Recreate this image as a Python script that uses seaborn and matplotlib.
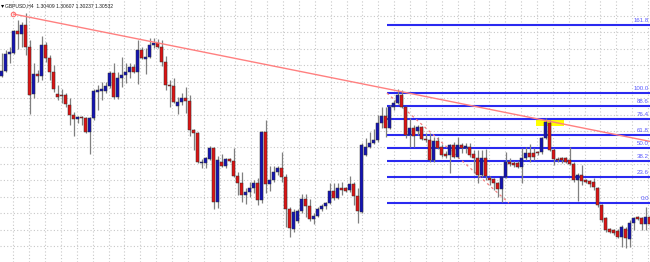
import numpy as np
import matplotlib
matplotlib.use("Agg")
import matplotlib.pyplot as plt
import seaborn as sns

# ---- candle data (GBPUSD H4) ----
opens = [1.3204, 1.3209, 1.3226, 1.3227, 1.3249, 1.3246, 1.3255, 1.3233, 1.3186, 1.3206,
         1.3204, 1.3235, 1.3222, 1.3208, 1.3186, 1.3185, 1.3185, 1.3175, 1.3165, 1.3161,
         1.3163, 1.3162, 1.3148, 1.3162, 1.3188, 1.3189, 1.3189, 1.3194, 1.3207, 1.3183,
         1.3202, 1.3205, 1.3208, 1.3213, 1.3208, 1.3230, 1.3221, 1.3223, 1.3235, 1.3237,
         1.3233, 1.3218, 1.3195, 1.3194, 1.3174, 1.3178, 1.3182, 1.3179, 1.3150, 1.3147,
         1.3117, 1.3117, 1.3121, 1.3132, 1.3078, 1.3118, 1.3114, 1.3121, 1.3119, 1.3104,
         1.3097, 1.3085, 1.3088, 1.3092, 1.3097, 1.3080, 1.3148, 1.3096, 1.3100, 1.3108,
         1.3112, 1.3103, 1.3071, 1.3051, 1.3059, 1.3069, 1.3081, 1.3074, 1.3061, 1.3064,
         1.3071, 1.3074, 1.3077, 1.3089, 1.3082, 1.3092, 1.3092, 1.3090, 1.3096, 1.3084,
         1.3068, 1.3125, 1.3133, 1.3137, 1.3140, 1.3157, 1.3164, 1.3152, 1.3173, 1.3177,
         1.3185, 1.3173, 1.3145, 1.3152, 1.3149, 1.3153, 1.3141, 1.3140, 1.3120, 1.3139,
         1.3133, 1.3126, 1.3125, 1.3135, 1.3123, 1.3135, 1.3132, 1.3133, 1.3126, 1.3122,
         1.3105, 1.3122, 1.3102, 1.3101, 1.3097, 1.3091, 1.3103, 1.3118, 1.3117, 1.3117,
         1.3113, 1.3122, 1.3127, 1.3127, 1.3128, 1.3128, 1.3142, 1.3157, 1.3130, 1.3121,
         1.3122, 1.3122, 1.3120, 1.3116, 1.3100, 1.3105, 1.3100, 1.3099, 1.3098, 1.3092,
         1.3075, 1.3062, 1.3051, 1.3050, 1.3049, 1.3043, 1.3051, 1.3041, 1.3057, 1.3063,
         1.3062, 1.3056, 1.3063]
highs = [1.3227, 1.3230, 1.3233, 1.3250, 1.3260, 1.3258, 1.3267, 1.3240, 1.3217, 1.3210,
         1.3244, 1.3238, 1.3225, 1.3215, 1.3195, 1.3191, 1.3187, 1.3182, 1.3168, 1.3164,
         1.3164, 1.3163, 1.3163, 1.3191, 1.3195, 1.3198, 1.3198, 1.3209, 1.3217, 1.3208,
         1.3223, 1.3217, 1.3217, 1.3216, 1.3240, 1.3233, 1.3232, 1.3242, 1.3242, 1.3241,
         1.3240, 1.3224, 1.3200, 1.3202, 1.3183, 1.3187, 1.3193, 1.3185, 1.3151, 1.3148,
         1.3121, 1.3123, 1.3134, 1.3133, 1.3124, 1.3126, 1.3122, 1.3122, 1.3132, 1.3108,
         1.3108, 1.3092, 1.3098, 1.3100, 1.3102, 1.3149, 1.3160, 1.3114, 1.3114, 1.3114,
         1.3128, 1.3106, 1.3073, 1.3071, 1.3071, 1.3086, 1.3086, 1.3081, 1.3067, 1.3073,
         1.3076, 1.3078, 1.3097, 1.3097, 1.3097, 1.3098, 1.3093, 1.3104, 1.3098, 1.3092,
         1.3137, 1.3142, 1.3148, 1.3151, 1.3165, 1.3173, 1.3173, 1.3175, 1.3180, 1.3191,
         1.3190, 1.3174, 1.3162, 1.3155, 1.3155, 1.3154, 1.3147, 1.3147, 1.3143, 1.3143,
         1.3136, 1.3129, 1.3136, 1.3138, 1.3143, 1.3137, 1.3137, 1.3137, 1.3130, 1.3130,
         1.3130, 1.3131, 1.3104, 1.3102, 1.3098, 1.3104, 1.3128, 1.3122, 1.3119, 1.3119,
         1.3132, 1.3133, 1.3136, 1.3132, 1.3129, 1.3143, 1.3162, 1.3160, 1.3132, 1.3123,
         1.3123, 1.3123, 1.3133, 1.3118, 1.3107, 1.3115, 1.3101, 1.3100, 1.3102, 1.3093,
         1.3076, 1.3063, 1.3052, 1.3051, 1.3051, 1.3055, 1.3053, 1.3060, 1.3063, 1.3064,
         1.3063, 1.3073, 1.3065]
lows = [1.3203, 1.3208, 1.3217, 1.3226, 1.3231, 1.3233, 1.3225, 1.3166, 1.3182, 1.3198,
        1.3200, 1.3218, 1.3200, 1.3188, 1.3180, 1.3177, 1.3173, 1.3155, 1.3144, 1.3157,
        1.3155, 1.3147, 1.3126, 1.3160, 1.3170, 1.3180, 1.3187, 1.3192, 1.3181, 1.3181,
        1.3193, 1.3197, 1.3202, 1.3207, 1.3196, 1.3221, 1.3206, 1.3222, 1.3232, 1.3232,
        1.3214, 1.3190, 1.3173, 1.3177, 1.3166, 1.3175, 1.3167, 1.3144, 1.3130, 1.3117,
        1.3112, 1.3112, 1.3120, 1.3071, 1.3072, 1.3113, 1.3112, 1.3118, 1.3103, 1.3085,
        1.3078, 1.3076, 1.3083, 1.3087, 1.3075, 1.3077, 1.3087, 1.3089, 1.3098, 1.3105,
        1.3098, 1.3053, 1.3043, 1.3048, 1.3057, 1.3067, 1.3063, 1.3059, 1.3056, 1.3063,
        1.3069, 1.3071, 1.3076, 1.3080, 1.3081, 1.3085, 1.3088, 1.3088, 1.3075, 1.3057,
        1.3067, 1.3124, 1.3132, 1.3136, 1.3138, 1.3152, 1.3143, 1.3151, 1.3170, 1.3176,
        1.3172, 1.3142, 1.3133, 1.3133, 1.3145, 1.3140, 1.3138, 1.3118, 1.3118, 1.3131,
        1.3123, 1.3122, 1.3107, 1.3122, 1.3122, 1.3127, 1.3127, 1.3123, 1.3107, 1.3097,
        1.3103, 1.3100, 1.3095, 1.3090, 1.3083, 1.3078, 1.3102, 1.3114, 1.3113, 1.3112,
        1.3097, 1.3120, 1.3118, 1.3120, 1.3125, 1.3126, 1.3141, 1.3129, 1.3115, 1.3118,
        1.3117, 1.3117, 1.3115, 1.3098, 1.3079, 1.3095, 1.3097, 1.3093, 1.3090, 1.3073,
        1.3058, 1.3048, 1.3047, 1.3045, 1.3042, 1.3033, 1.3032, 1.3033, 1.3050, 1.3060,
        1.3050, 1.3050, 1.3050]
closes = [1.3209, 1.3226, 1.3228, 1.3249, 1.3246, 1.3255, 1.3233, 1.3185, 1.3206, 1.3204,
          1.3235, 1.3222, 1.3208, 1.3191, 1.3183, 1.3184, 1.3176, 1.3165, 1.3161, 1.3163,
          1.3162, 1.3148, 1.3162, 1.3189, 1.3190, 1.3191, 1.3194, 1.3207, 1.3183, 1.3202,
          1.3205, 1.3208, 1.3213, 1.3208, 1.3230, 1.3222, 1.3223, 1.3235, 1.3237, 1.3233,
          1.3218, 1.3195, 1.3194, 1.3178, 1.3178, 1.3182, 1.3179, 1.3150, 1.3147, 1.3118,
          1.3118, 1.3122, 1.3132, 1.3078, 1.3120, 1.3114, 1.3121, 1.3119, 1.3104, 1.3097,
          1.3085, 1.3088, 1.3092, 1.3097, 1.3080, 1.3148, 1.3096, 1.3100, 1.3108, 1.3112,
          1.3103, 1.3071, 1.3052, 1.3068, 1.3069, 1.3081, 1.3074, 1.3061, 1.3064, 1.3071,
          1.3074, 1.3077, 1.3089, 1.3082, 1.3092, 1.3090, 1.3089, 1.3096, 1.3084, 1.3069,
          1.3135, 1.3133, 1.3137, 1.3140, 1.3157, 1.3164, 1.3152, 1.3173, 1.3177, 1.3185,
          1.3173, 1.3145, 1.3152, 1.3144, 1.3153, 1.3141, 1.3140, 1.3120, 1.3139, 1.3132,
          1.3125, 1.3124, 1.3135, 1.3123, 1.3135, 1.3132, 1.3134, 1.3125, 1.3122, 1.3105,
          1.3122, 1.3104, 1.3100, 1.3097, 1.3091, 1.3103, 1.3118, 1.3116, 1.3115, 1.3113,
          1.3122, 1.3127, 1.3123, 1.3123, 1.3127, 1.3142, 1.3158, 1.3130, 1.3121, 1.3120,
          1.3120, 1.3118, 1.3116, 1.3100, 1.3105, 1.3099, 1.3098, 1.3096, 1.3093, 1.3075,
          1.3060, 1.3050, 1.3048, 1.3047, 1.3043, 1.3053, 1.3042, 1.3057, 1.3062, 1.3061,
          1.3056, 1.3063, 1.3056]

# ---- drawing objects ----
fib_levels = [0.0, 23.6, 38.2, 50.0, 61.8, 76.4, 88.6, 100.0, 161.8]
fib_labels = ["0.0", "23.6", "38.2", "50.0", "61.8", "76.4", "88.6", "100.0", "161.8"]
fib_low = 1.3077
fib_high = 1.3187
fib_anchor_bars = [96.3, 126.8]
trend_bars = [2.9, 96.6]
trend_prices = [1.3266, 1.3191]
zone_bars = [133.6, 140.6]
zone_prices = [1.3154, 1.3162]
header = "GBPUSD,H4  1.30409 1.30607 1.30237 1.30532"

sns.set_style("white")
plt.rcParams["font.family"] = ["Liberation Sans", "DejaVu Sans"]

fig = plt.figure(figsize=(6.5, 2.62), dpi=100)
ax = fig.add_axes([0, 0, 1, 1])
xmin, xmax = -0.425, 162.075
ymin, ymax = 1.3018, 1.3280
ax.set_xlim(xmin, xmax)
ax.set_ylim(ymin, ymax)

# grid
for gy in np.arange(1.3264, ymin, -0.001643):
    ax.axhline(gy, color="#c8c8c8", lw=0.8, ls=(0, (1, 2)), zorder=0)
for gx in np.arange(2.9, xmax, 3.9675):
    ax.axvline(gx, color="#c8c8c8", lw=0.8, ls=(0, (1, 2)), zorder=0)

o = np.array(opens); h = np.array(highs); l = np.array(lows); c = np.array(closes)
x = np.arange(len(o))
up = c >= o

# yellow zone
ax.fill_between(zone_bars, zone_prices[0], zone_prices[1], color="#ffff00", lw=0, zorder=1)

# fibonacci
rng = fib_high - fib_low
for lev, lab in zip(fib_levels, fib_labels):
    yv = fib_low + rng * lev / 100.0
    ax.plot([fib_anchor_bars[0] + 0.1, xmax], [yv, yv], color="#2a2af0", lw=1.5,
            solid_capstyle="butt", zorder=2)
    ax.text(xmax - 0.25, yv + 0.00016, lab, color="#5a5aff", fontsize=4.4, ha="right",
            va="bottom", zorder=6)
ax.plot(fib_anchor_bars, [fib_high, fib_low], color="#f08080", lw=0.9,
        ls=(0, (2, 2.5)), zorder=2)

# candles
ax.vlines(x, l, h, color="#808080", lw=0.9, zorder=3)
bw = 0.65
body_lo = np.minimum(o, c)
body_h = np.maximum(np.abs(c - o), 0.00008)
ax.bar(x[up], body_h[up], bottom=body_lo[up], width=bw, color="#1414b4",
       edgecolor="#303030", lw=0.35, zorder=4)
ax.bar(x[~up], body_h[~up], bottom=body_lo[~up], width=bw, color="#dc1414",
       edgecolor="#303030", lw=0.35, zorder=4)

# trend line (ray)
slope = (trend_prices[1] - trend_prices[0]) / (trend_bars[1] - trend_bars[0])
tx = [trend_bars[0], xmax]
ty = [trend_prices[0], trend_prices[0] + slope * (xmax - trend_bars[0])]
sns.lineplot(x=tx, y=ty, ax=ax, color="#ff8080", lw=1.0, zorder=5)
ax.plot([trend_bars[0]], [trend_prices[0]], marker="o", ms=3.2, mfc="none",
        mec="#ff7070", mew=0.8, zorder=5)

# header
ax.text(0.001, 0.988, "\u25BE", transform=ax.transAxes, fontsize=4.5, va="top",
        ha="left", color="black", family=["DejaVu Sans"], zorder=7)
ax.text(0.0075, 0.988, header, transform=ax.transAxes, fontsize=3.6, va="top",
        ha="left", color="#202020", zorder=7)

ax.set_xticks([]); ax.set_yticks([])
for s in ax.spines.values():
    s.set_visible(False)
ax.set_xlabel(""); ax.set_ylabel("")
fig.savefig("out.png", dpi=100)
